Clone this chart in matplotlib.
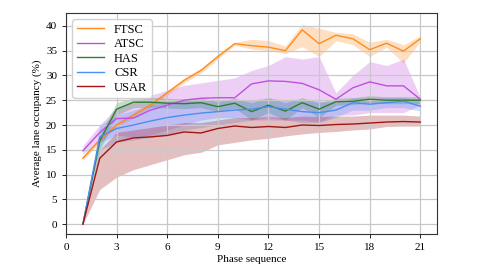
import matplotlib
matplotlib.use("Agg")
import numpy as np
from matplotlib import pyplot as plt

plt.rcParams['font.family'] = ['Liberation Serif', 'DejaVu Serif']

phase = list(range(1, 22))

# mean curves
ftsc = [13.3, 17.0, 20.0, 22.0, 24.0, 26.5, 29.0, 31.0, 33.8, 36.4, 36.0, 35.7, 35.0, 39.2, 36.4, 38.1, 37.4, 35.2, 36.5, 34.9, 37.4]
atsc = [14.8, 18.5, 21.3, 21.4, 23.0, 24.0, 25.0, 25.4, 25.5, 25.5, 28.3, 28.9, 28.8, 28.4, 27.1, 25.2, 27.5, 28.7, 27.9, 27.9, 25.2]
has = [0.0, 16.8, 23.2, 24.6, 24.6, 24.4, 24.3, 24.5, 23.7, 24.4, 22.7, 24.0, 22.8, 24.5, 23.2, 24.7, 24.8, 25.2, 25.0, 25.0, 25.0]
csr = [0.0, 17.6, 19.3, 20.0, 20.8, 21.5, 22.0, 22.4, 22.7, 23.0, 23.2, 23.7, 23.2, 22.7, 22.5, 23.0, 24.5, 24.2, 24.5, 24.8, 23.8]
usar = [0.0, 13.3, 16.6, 17.4, 17.6, 17.9, 18.6, 18.4, 19.3, 19.8, 19.5, 19.7, 19.5, 20.0, 19.9, 20.1, 20.2, 20.4, 20.6, 20.7, 20.6]

# shaded ranges
ftsc_lo = [12.8, 16.5, 19.5, 21.5, 23.5, 26.0, 28.5, 30.5, 33.3, 36.1, 35.3, 35.0, 34.4, 35.8, 33.8, 37.0, 36.2, 33.8, 35.7, 32.5, 36.8]
ftsc_hi = [13.8, 17.5, 20.5, 22.5, 24.5, 27.0, 29.5, 31.5, 34.3, 36.7, 37.3, 37.0, 36.0, 40.3, 39.5, 38.7, 38.4, 36.7, 37.3, 36.2, 38.0]
atsc_lo = [14.2, 16.5, 18.0, 17.5, 18.0, 19.0, 20.0, 21.0, 21.5, 21.5, 21.0, 21.0, 21.0, 21.0, 20.7, 22.0, 22.0, 22.5, 22.5, 22.5, 24.0]
atsc_hi = [15.8, 20.0, 23.5, 24.5, 26.0, 27.0, 28.0, 28.5, 29.0, 29.5, 31.0, 32.0, 33.8, 33.3, 33.8, 26.5, 30.0, 32.8, 32.0, 33.3, 25.6]
has_lo = [0.0, 15.0, 22.0, 23.5, 23.6, 23.4, 23.3, 23.5, 22.7, 23.4, 21.0, 22.5, 21.0, 23.5, 21.5, 24.0, 24.1, 24.5, 24.3, 24.3, 24.3]
has_hi = [0.0, 18.0, 24.5, 25.5, 25.6, 25.4, 25.3, 25.5, 24.7, 25.4, 24.5, 25.5, 24.5, 25.5, 24.5, 25.4, 25.5, 25.9, 25.7, 25.7, 25.7]
csr_lo = [0.0, 15.0, 16.5, 17.0, 17.5, 18.0, 19.0, 19.5, 20.0, 20.5, 21.0, 21.5, 21.0, 20.5, 20.5, 21.5, 23.0, 23.0, 23.5, 23.5, 22.8]
csr_hi = [0.0, 20.0, 22.0, 23.0, 24.0, 24.5, 25.0, 25.0, 25.0, 25.0, 25.0, 25.5, 25.0, 25.0, 24.8, 24.5, 25.5, 25.3, 25.5, 25.5, 24.8]
usar_lo = [0.0, 7.0, 9.5, 11.0, 12.0, 13.0, 14.0, 14.5, 16.0, 16.5, 17.0, 17.3, 17.8, 18.2, 18.5, 18.7, 19.0, 19.2, 19.7, 19.8, 19.8]
usar_hi = [0.0, 15.0, 18.5, 19.0, 19.5, 20.0, 20.5, 20.5, 21.0, 21.5, 21.5, 21.7, 21.5, 21.8, 21.7, 21.8, 21.8, 22.0, 22.0, 22.0, 21.8]

names = ['FTSC', 'ATSC', 'HAS', 'CSR', 'USAR']
colors = ['#ff8c1a', '#c050e0', '#2e7d32', '#4a8ef0', '#a01515']

fig = plt.figure(figsize=(4.82, 2.7), dpi=100)
ax = fig.add_axes([0.137, 0.133, 0.77, 0.819])

series = [(ftsc, ftsc_lo, ftsc_hi), (atsc, atsc_lo, atsc_hi), (has, has_lo, has_hi),
          (csr, csr_lo, csr_hi), (usar, usar_lo, usar_hi)]
for (m, lo, hi), name, c in zip(series, names, colors):
    ax.fill_between(phase, lo, hi, color=c, alpha=0.27, linewidth=0)
    ax.plot(phase, m, color=c, lw=1.0, label=name)

ax.set_xlim(0, 22)
ax.set_ylim(-2, 42.6)
ax.set_xticks(range(0, 22, 3))
ax.set_yticks(range(0, 41, 5))
ax.tick_params(labelsize=8, length=3, width=0.6)
ax.grid(True, color='#c8c8c8', lw=0.9)
for s in ax.spines.values():
    s.set_linewidth(0.8)
    s.set_color('#333333')
ax.set_xlabel('Phase sequence', fontsize=8, labelpad=2)
ax.set_ylabel('Average lane occupancy (%)', fontsize=8, labelpad=3)
ax.legend(loc='upper left', fontsize=9, handlelength=2.2, borderpad=0.35, labelspacing=0.2, framealpha=0.9)

plt.savefig('out.png', dpi=100)
